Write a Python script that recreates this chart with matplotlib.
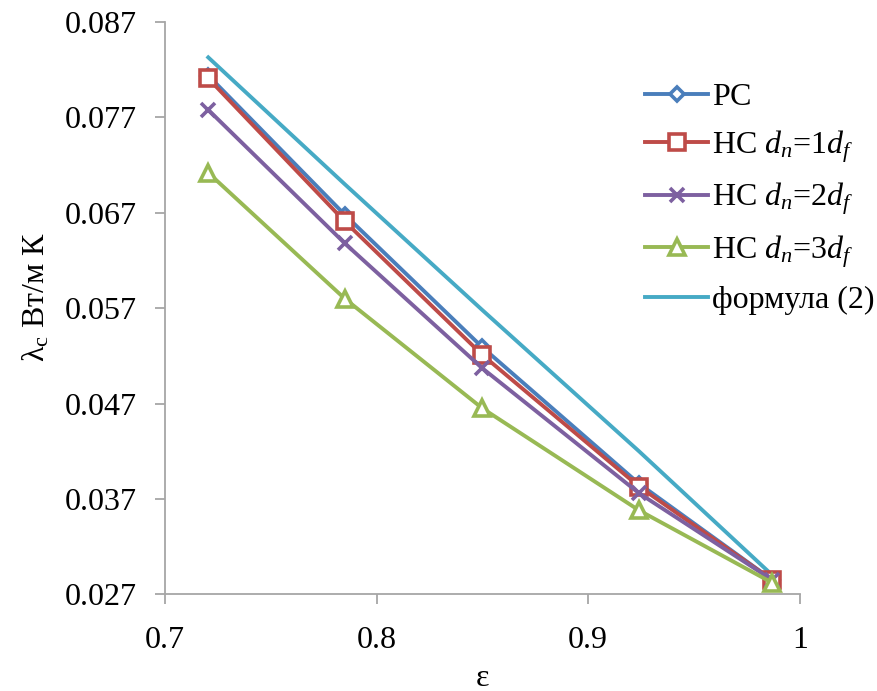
import matplotlib.pyplot as plt
from matplotlib.lines import Line2D

# porosity values
eps = [0.7205, 0.785, 0.85, 0.924, 0.987]

pc = [0.0814, 0.0668, 0.0529, 0.0386, 0.0285]
nc1 = [0.0811, 0.0661, 0.0521, 0.0383, 0.0285]
nc2 = [0.0778, 0.0638, 0.0507, 0.0376, 0.0285]
nc3 = [0.0712, 0.0580, 0.0465, 0.0358, 0.0282]
formula = [0.0833, 0.0700, 0.0568, 0.0420, 0.0290]

y_ticks = [0.027, 0.037, 0.047, 0.057, 0.067, 0.077, 0.087]
x_ticks = [0.7, 0.8, 0.9, 1.0]

plt.rcParams["font.family"] = ["Liberation Serif", "DejaVu Serif"]
plt.rcParams["mathtext.fontset"] = "custom"
plt.rcParams["mathtext.rm"] = "Liberation Serif"
plt.rcParams["mathtext.it"] = "Liberation Serif:italic"

fig = plt.figure(figsize=(8.77, 6.91), dpi=100)
ax = fig.add_axes([0.188, 0.140, 0.724, 0.828])

lw = 2.8
series = [
    (pc, "#4A7EBB", "D", 7, "РС"),
    (nc1, "#BE4B48", "s", 11, r"НС $d_n$=1$d_f$"),
    (nc2, "#7D60A0", "x", 10, r"НС $d_n$=2$d_f$"),
    (nc3, "#98B954", "^", 11, r"НС $d_n$=3$d_f$"),
]

handles = []
for vals, col, mk, ms, lab in series:
    mfc = col if mk == "x" else "white"
    ax.plot(eps, vals, color=col, lw=lw, marker=mk, ms=ms, mfc=mfc,
            mec=col, mew=2.6, zorder=3)
    handles.append(Line2D([], [], color=col, lw=lw, marker=mk, ms=ms,
                          mfc=mfc, mec=col, mew=2.6, label=lab))

ax.plot(eps, formula, color="#46AAC5", lw=lw, zorder=2)
handles.append(Line2D([], [], color="#46AAC5", lw=lw, label="формула (2)"))

ax.set_xlim(0.7, 1.0)
ax.set_ylim(0.027, 0.087)
ax.set_xticks(x_ticks)
ax.set_xticklabels(["0.7", "0.8", "0.9", "1"])
ax.set_yticks(y_ticks)
ax.set_yticklabels([f"{v:.3f}" for v in y_ticks])

for s in ["top", "right"]:
    ax.spines[s].set_visible(False)
for s in ["left", "bottom"]:
    ax.spines[s].set_color("#A6A6A6")
    ax.spines[s].set_linewidth(1.3)
ax.tick_params(axis="both", colors="#A6A6A6", labelcolor="black",
               labelsize=23, length=7, width=1.3, direction="out")
ax.tick_params(axis="x", pad=16)
ax.tick_params(axis="y", pad=13)

ax.set_xlabel("ε", fontsize=23, labelpad=6)
ax.set_ylabel(r"λ$_\mathrm{c}$ Вт/м К", fontsize=23)
ax.yaxis.set_label_coords(-0.178, 0.52)

fig.legend(handles=handles, loc="upper left",
           bbox_to_anchor=(0.735, 0.88), frameon=False, fontsize=23,
           handlelength=2.0, handletextpad=0.1, labelspacing=0.5,
           borderaxespad=0, borderpad=0)

fig.savefig("out.png", dpi=100)
